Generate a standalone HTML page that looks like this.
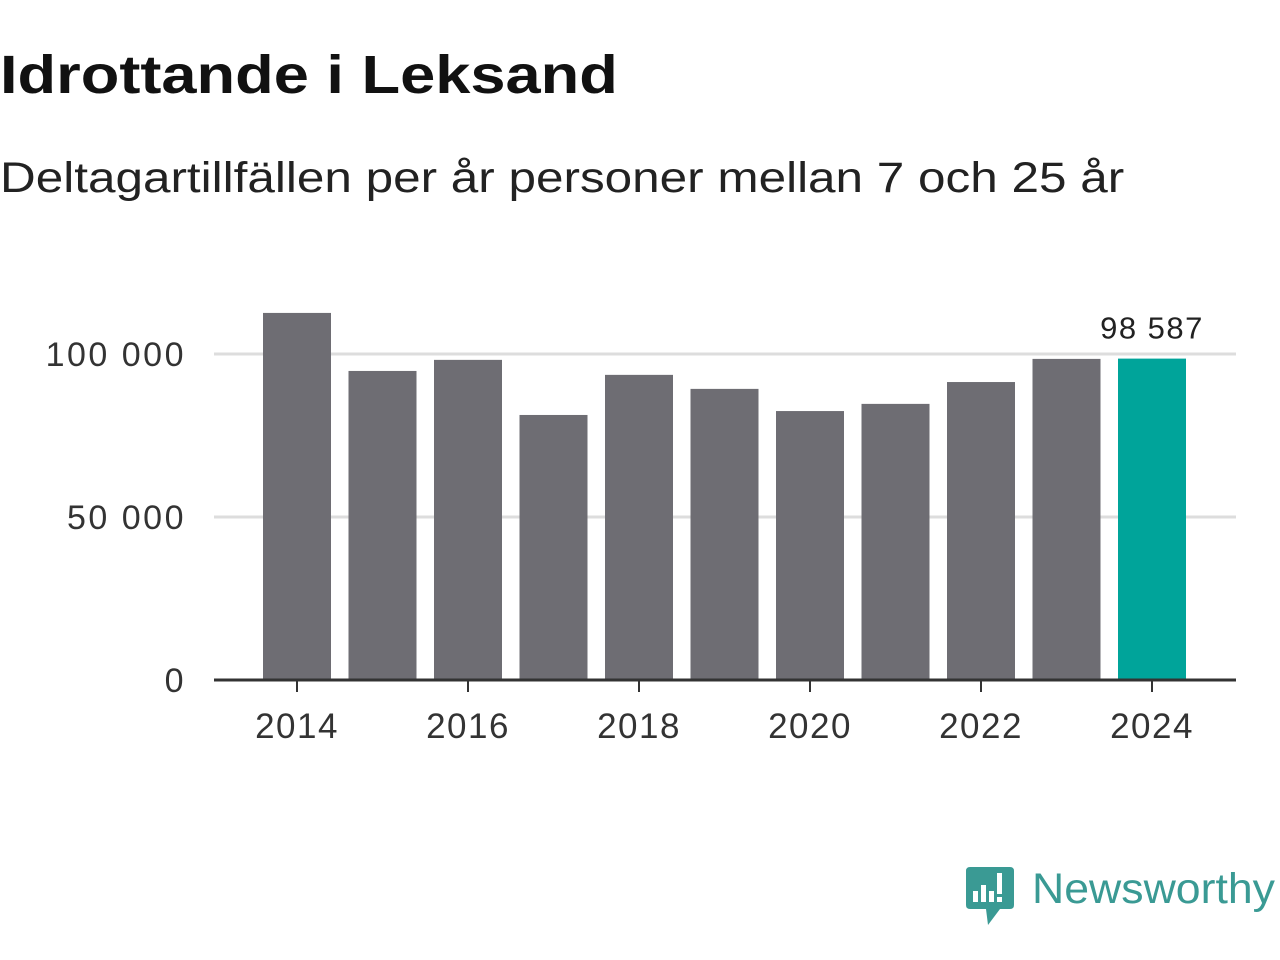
<!DOCTYPE html>
<html><head><meta charset="utf-8"><style>
body{margin:0;width:1280px;height:960px;background:#fff;font-family:"Liberation Sans",sans-serif;overflow:hidden;position:relative}
#t{position:absolute;left:0;top:44px;font-size:54px;font-weight:bold;color:#111;transform-origin:0 0;transform:scaleX(1.17);white-space:nowrap}
#s{position:absolute;left:0;top:154px;font-size:43px;color:#222;transform-origin:0 0;transform:scaleX(1.15);white-space:nowrap}
svg{position:absolute;left:0;top:0}
</style></head><body>
<div id="t">Idrottande i Leksand</div>
<div id="s">Deltagartillfällen per år personer mellan 7 och 25 år</div>
<svg id="c" width="1280" height="960"></svg>
<script>
const years=[2014,2015,2016,2017,2018,2019,2020,2021,2022,2023,2024];
const values=[112600,94800,98200,81300,93600,89300,82500,84700,91400,98500,98587];
const yTicks=[0,50000,100000];
const yTickLabels=["0","50 000","100 000"];
const xTicks=[2014,2016,2018,2020,2022,2024];
const NS="http://www.w3.org/2000/svg";
const svg=document.getElementById('c');
const x=v=>211.5+(v-2013)*85.5;
const y=v=>680-v*0.00326;
function mk(t,a){const e=document.createElementNS(NS,t);for(const k in a)e.setAttribute(k,a[k]);svg.appendChild(e);return e;}
yTicks.forEach((t,i)=>{
 if(t>0){const g=mk('line',{x1:214,x2:1236,y1:y(t),y2:y(t),stroke:'#ddd','stroke-width':3});
 
 }
 const l=mk('text',{x:186,y:y(t)+12,'text-anchor':'end','font-size':34,'letter-spacing':2.5,fill:'#333'});
 l.textContent=yTickLabels[i];
 
 
});
years.forEach((yr,i)=>{
 const last=i===years.length-1;
 const b=mk('rect',{x:x(yr)-34,width:68,y:y(values[i]),height:680-y(values[i]),fill:last?'#00a49a':'#6e6d73'});
 
 
 if(last){const v=mk('text',{x:x(yr),y:y(values[i])-20,'text-anchor':'middle','font-size':31,'letter-spacing':1.5,fill:'#222'});
 v.textContent=values[i].toLocaleString('sv-SE').replace(/\s/g,' ');
 
 }
});
const ax=mk('line',{x1:214,x2:1236,y1:680,y2:680,stroke:'#333','stroke-width':3});


xTicks.forEach(yr=>{
 const tk=mk('line',{x1:x(yr),x2:x(yr),y1:680,y2:692,stroke:'#333','stroke-width':2});
 
 
 const l=mk('text',{x:x(yr),y:738,'text-anchor':'middle','font-size':35,'letter-spacing':1.5,fill:'#333'});
 l.textContent=yr;
 
 
});
</script>
<svg width="1280" height="960" style="pointer-events:none">
<path d="M970 867 H1010 Q1014 867 1014 871 V905 Q1014 909 1010 909 H1000 L988 925 L986 909 H970 Q966 909 966 905 V871 Q966 867 970 867Z" fill="#3a9a94"/>
<rect x="973" y="891" width="5" height="11" fill="#fff"/><rect x="981" y="885" width="5" height="17" fill="#fff"/><rect x="989" y="891" width="5" height="11" fill="#fff"/><rect x="997" y="873" width="5" height="21" fill="#fff"/><rect x="997" y="897" width="5" height="5" fill="#fff"/>
<text x="1032" y="903" font-size="43" fill="#3a9a94" font-family="Liberation Sans, sans-serif" textLength="243" lengthAdjust="spacingAndGlyphs">Newsworthy</text>
</svg>
</body></html>
